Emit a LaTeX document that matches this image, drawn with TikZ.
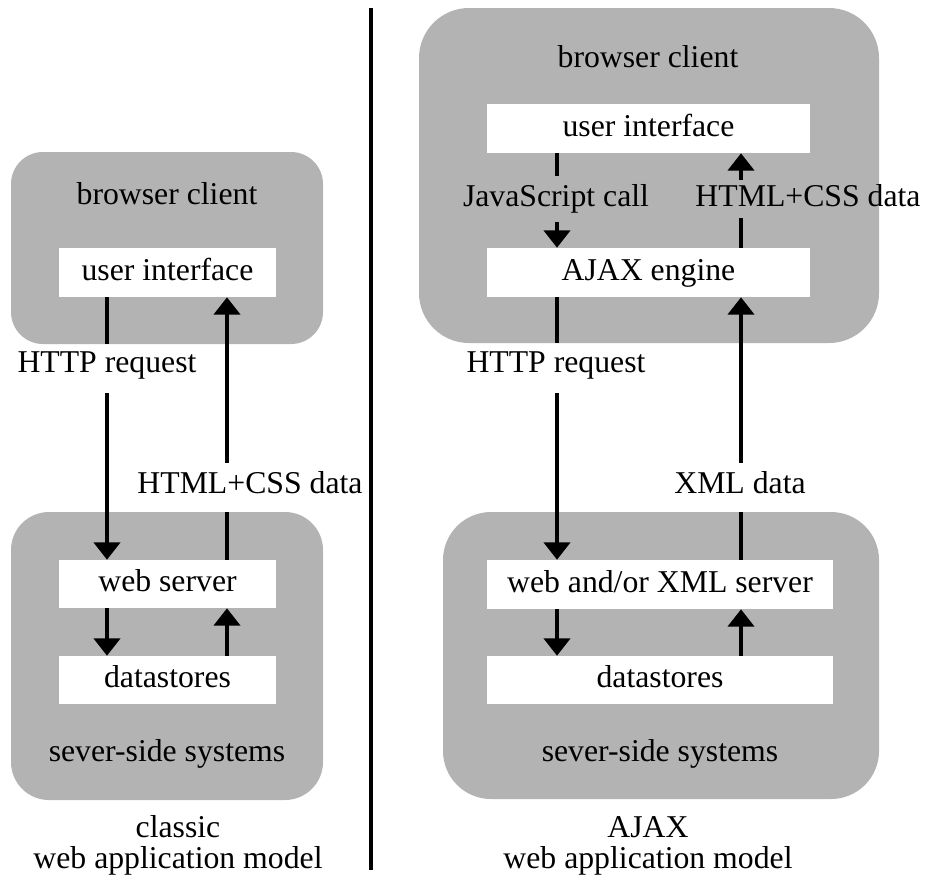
\documentclass[tikz,border=0pt]{standalone}
\usepackage{fontspec}
\setmainfont{Liberation Serif}
\usetikzlibrary{arrows.meta}
\definecolor{panelgray}{RGB}{179,179,179}
\begin{document}
\begin{tikzpicture}[x=0.75pt,y=-0.75pt,
  font=\fontsize{23.8pt}{28pt}\selectfont,
  sz/.style 2 args={minimum width=#1*0.75pt, minimum height=#2*0.75pt},
  panel/.style={fill=panelgray, draw=none, rounded corners=#1, inner sep=0pt},
  box/.style={fill=white, draw=none, inner sep=0pt, text height=16.7pt, text depth=5.2pt},
  lbl/.style={inner sep=0pt, text height=16.7pt, text depth=5.2pt, minimum height=46*0.75pt},
  caption/.style={inner sep=0pt, align=center, font=\fontsize{23.8pt}{23.25pt}\selectfont},
  conn/.style={line width=3pt, black},
  tip/.style={-{Triangle[width=19.5pt,length=13pt]}},
  divline/.style={line width=3pt, black}]

\useasboundingbox (0,0) rectangle (945,879);

% ---------- classic model ----------
\node[panel=24pt, sz={312}{192}] (lbc) at (167,248) {};
\node[panel=28.5pt, sz={312}{288}] (lss) at (167,656) {};

\node[lbl] (lbctitle) at (167,197) {browser client};
\node[box, sz={217}{49}] (lui) at (167.5,272.5) {user interface};
\node[box, sz={217}{48}] (lweb) at (167.5,584) {web server};
\node[box, sz={217}{48}] (lds) at (167.5,680) {datastores};
\node[lbl] (lsstitle) at (167,754) {sever-side systems};

\node[lbl, minimum height=56*0.75pt] (lhttp) at (107,365) {HTTP request};
\node[lbl] (lhtml) at (250,486) {HTML+CSS data};
\node[caption] (lcap) at (178,845) {classic\\web application model};

\coordinate (xl1) at (107,0);
\coordinate (xl2) at (227,0);

\draw[conn] (lui.south -| xl1) -- (lbc.south -| xl1);
\draw[conn,tip] (lhttp.south -| xl1) -- (lweb.north -| xl1);
\draw[conn] (lweb.north -| xl2) -- (lss.north -| xl2);
\draw[conn,tip] (lhtml.north -| xl2) -- (lui.south -| xl2);
\draw[conn,tip] (lweb.south -| xl1) -- (lds.north -| xl1);
\draw[conn,tip] (lds.north -| xl2) -- (lweb.south -| xl2);

% ---------- divider ----------
\coordinate (dtop) at (371,8);
\coordinate (dbot) at (371,870);
\draw[divline] (dtop) -- (dbot);

% ---------- AJAX model ----------
\node[panel=37.5pt, sz={460}{335}] (rbc) at (649,175.5) {};
\node[panel=36pt, sz={436}{287}] (rss) at (661,655.5) {};

\node[lbl] (rbctitle) at (648,60) {browser client};
\node[box, sz={323}{49}] (rui) at (648.5,128.5) {user interface};
\node[box, sz={323}{49}] (rajax) at (648.5,272.5) {AJAX engine};
\node[box, sz={346}{49}] (rweb) at (660,584.5) {web and/or XML server};
\node[box, sz={346}{48}] (rds) at (660,680) {datastores};
\node[lbl] (rsstitle) at (660,754) {sever-side systems};

\node[lbl] (rjs) at (556,199) {JavaScript call};
\node[lbl, minimum height=38*0.75pt] (rhtml) at (808,199) {HTML+CSS data};
\node[lbl, minimum height=56*0.75pt] (rhttp) at (556,365) {HTTP request};
\node[lbl] (rxml) at (740,486) {XML data};
\node[caption] (rcap) at (648,846) {AJAX\\web application model};

\coordinate (xr1) at (557,0);
\coordinate (xr2) at (741,0);

\draw[conn] (rui.south -| xr1) -- (rjs.north -| xr1);
\draw[conn,tip] (rjs.south -| xr1) -- (rajax.north -| xr1);
\draw[conn] (rajax.north -| xr2) -- (rhtml.south -| xr2);
\draw[conn,tip] (rhtml.north -| xr2) -- (rui.south -| xr2);
\draw[conn] (rajax.south -| xr1) -- (rbc.south -| xr1);
\draw[conn,tip] (rhttp.south -| xr1) -- (rweb.north -| xr1);
\draw[conn] (rweb.north -| xr2) -- (rss.north -| xr2);
\draw[conn,tip] (rxml.north -| xr2) -- (rajax.south -| xr2);
\draw[conn,tip] (rweb.south -| xr1) -- (rds.north -| xr1);
\draw[conn,tip] (rds.north -| xr2) -- (rweb.south -| xr2);

\end{tikzpicture}
\end{document}
